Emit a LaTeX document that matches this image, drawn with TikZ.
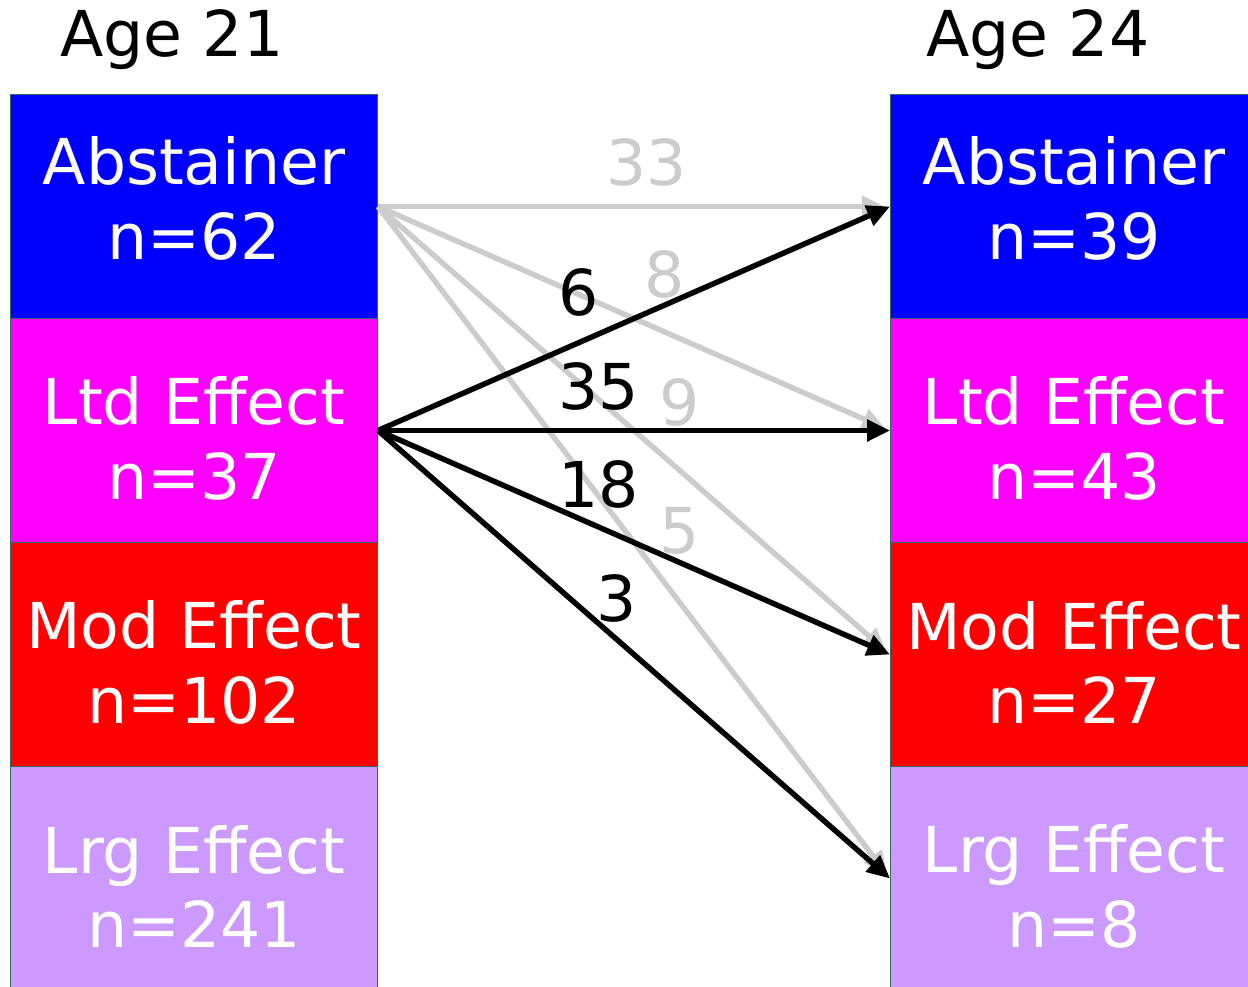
\documentclass[tikz,border=0pt]{standalone}
\usepackage{fontspec}
\setmainfont{DejaVu Sans}
\usetikzlibrary{arrows.meta}
\definecolor{edgeteal}{RGB}{51,102,102}
\definecolor{abscol}{RGB}{0,0,255}
\definecolor{ltdcol}{RGB}{255,0,255}
\definecolor{modcol}{RGB}{255,0,0}
\definecolor{lrgcol}{RGB}{204,153,255}
\definecolor{lightgrey}{RGB}{204,204,204}
\begin{document}
\begin{tikzpicture}[x=0.02cm,y=-0.02cm,
	box/.style={draw=edgeteal,line width=0.6pt,minimum width=7.36cm,minimum height=4.48cm,inner sep=0pt,outer sep=0pt},
	boxtext/.style={text=white,align=center,font=\fontsize{36}{42.5}\selectfont,inner sep=0pt},
	count/.style={font=\fontsize{36}{42.5}\selectfont,anchor=base,inner sep=0pt},
	flow/.style={line width=3.1pt,-{Triangle[length=0.46cm,width=0.42cm]}},
	greyflow/.style={flow,lightgrey,shorten >=3pt}]
		\clip (0,0) rectangle (1248,987);
		\useasboundingbox (0,0) rectangle (1248,987);
		% age 21
		\node [box,fill=abscol] (l1) at (194,206.5) {};
		\node [box,fill=ltdcol] (l2) at (194,430.5) {};
		\node [box,fill=modcol] (l3) at (194,654.5) {};
		\node [box,fill=lrgcol] (l4) at (194,878.5) {};
		% age 24
		\node [box,fill=abscol] (r1) at (1074,206.5) {};
		\node [box,fill=ltdcol] (r2) at (1074,430.5) {};
		\node [box,fill=modcol] (r3) at (1074,654.5) {};
		\node [box,fill=lrgcol] (r4) at (1074,878.5) {};
		\node [boxtext] (l1t) at ([yshift=0.16cm]l1.center) {Abstainer\\n=62};
		\node [boxtext] (l2t) at ([yshift=-0.16cm]l2.center) {Ltd Effect\\n=37};
		\node [boxtext] (l3t) at ([yshift=-0.16cm]l3.center) {Mod Effect\\n=102};
		\node [boxtext] (l4t) at ([yshift=-0.16cm]l4.center) {Lrg Effect\\n=241};
		\node [boxtext] (r1t) at ([yshift=0.16cm]r1.center) {Abstainer\\n=39};
		\node [boxtext] (r2t) at ([yshift=-0.16cm]r2.center) {Ltd Effect\\n=43};
		\node [boxtext] (r3t) at ([yshift=-0.16cm]r3.center) {Mod Effect\\n=27};
		\node [boxtext] (r4t) at ([yshift=-0.16cm]r4.center) {Lrg Effect\\n=8};
		\node [count] (head21) at (172,56) {Age 21};
		\node [count] (head24) at (1038,56) {Age 24};
		% from abstainer
		\draw [greyflow] (l1.east) -- (r1.west);
		\draw [greyflow] (l1.east) -- (r2.west);
		\draw [greyflow] (l1.east) -- (r3.west);
		\draw [greyflow] (l1.east) -- (r4.west);
		% from ltd effect
		\draw [flow] (l2.east) -- (r1.west);
		\draw [flow] (l2.east) -- (r2.west);
		\draw [flow] (l2.east) -- (r3.west);
		\draw [flow] (l2.east) -- (r4.west);
		\node [count,lightgrey] (n33) at (646.5,185) {33};
		\node [count,lightgrey] (n8) at (665,297) {8};
		\node [count,lightgrey] (n9) at (680,425) {9};
		\node [count,lightgrey] (n5) at (680,553) {5};
		\node [count] (n6) at (579,315) {6};
		\node [count] (n35) at (599,409) {35};
		\node [count] (n18) at (599,507) {18};
		\node [count] (n3) at (617,621) {3};
	\end{tikzpicture}
\end{document}
